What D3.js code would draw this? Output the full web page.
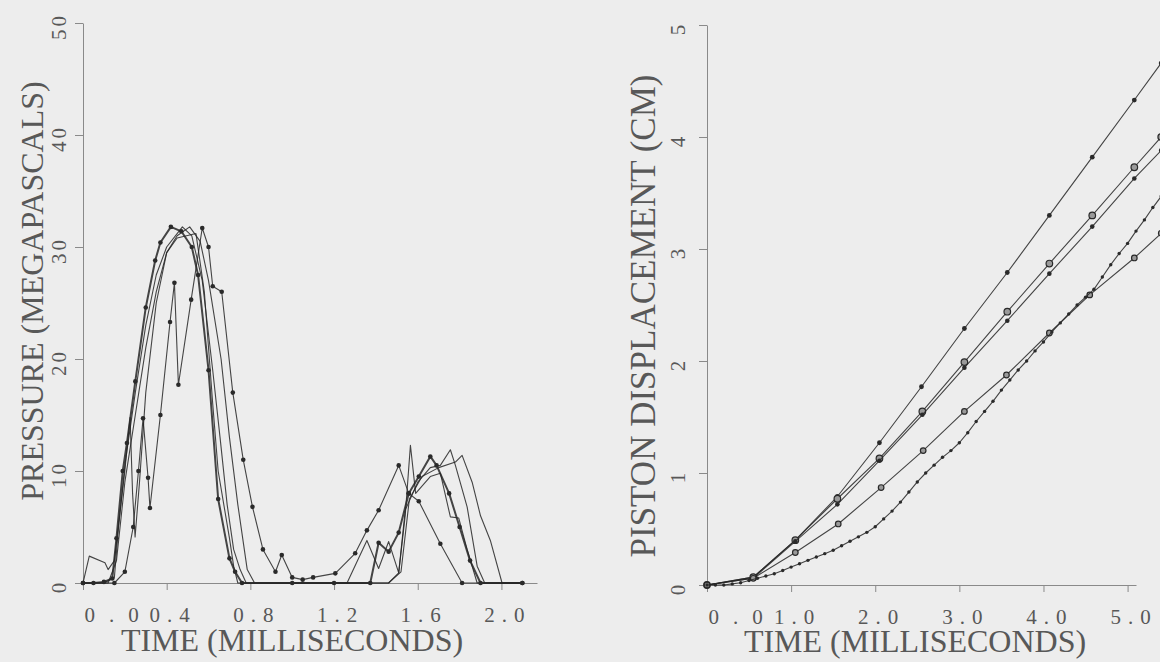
<!DOCTYPE html>
<html>
<head>
<meta charset="utf-8">
<script src="https://cdn.jsdelivr.net/npm/d3@7"></script>
<style>
body { margin: 0; background: #ededed; }
svg { display: block; }
text { font-family: "Liberation Serif", "DejaVu Serif", serif; fill: #585858; }
</style>
</head>
<body>
<svg width="1160" height="662"></svg>
<script>
// tick labels
const pressTicksX = [0.0, 0.4, 0.8, 1.2, 1.6, 2.0]
const pressTicksY = [0, 10, 20, 30, 40, 50]
const dispTicksX = [0, 1, 2, 3, 4, 5]
const dispTicksY = [0, 1, 2, 3, 4, 5]

// pressure traces, [time ms, pressure MPa]
const pressA = [[0,0],[0.05,0],[0.1,0.1],[0.14,0.4],[0.16,4],[0.19,10],[0.21,12.5],[0.25,18],[0.3,24.6],[0.345,28.8],[0.37,30.4],[0.42,31.8],[0.47,31.4],[0.52,30],[0.55,27.5],[0.6,19],[0.646,7.5],[0.7,2.2],[0.727,1],[0.76,0],[1.0,0],[1.2,0],[1.373,0],[1.413,3.6],[1.461,2.8],[1.509,4.5],[1.557,8],[1.605,9.5],[1.66,11.3],[1.69,10.5],[1.75,8],[1.8,5],[1.85,2],[1.9,0],[2.1,0]]
const pressB = [[0,0],[0.1,0],[0.15,0.5],[0.17,5],[0.2,10.5],[0.25,17],[0.3,23],[0.35,27.5],[0.4,30],[0.475,31.8],[0.52,31],[0.57,27],[0.62,19],[0.655,13],[0.689,7],[0.72,3],[0.751,1.2],[0.78,0],[1.2,0],[1.461,0],[1.509,0.9],[1.54,6.5],[1.6,9],[1.66,10.3],[1.708,10.5],[1.756,11.9],[1.78,10.5],[1.836,6.8],[1.884,1.5],[1.92,0],[2.1,0]]
const pressC = [[0,0],[0.03,2.4],[0.105,1.8],[0.12,1.2],[0.15,2],[0.2,10],[0.225,14.8],[0.237,8],[0.249,4.1],[0.27,9],[0.3,17],[0.35,25],[0.4,29.5],[0.45,31],[0.51,31.8],[0.56,30.5],[0.6,27],[0.66,20],[0.7,13],[0.74,7],[0.785,1.2],[0.82,0],[1.2,0],[1.46,0],[1.52,1],[1.56,7.5],[1.62,9.5],[1.7,10.3],[1.78,10.8],[1.812,11.4],[1.86,9],[1.9,6],[1.947,3.8],[2.003,0],[2.1,0]]
const pressD = [[0,0],[0.15,0],[0.2,1],[0.24,5],[0.265,10],[0.287,14.7],[0.311,9.4],[0.32,6.7],[0.37,15],[0.416,23.3],[0.437,26.8],[0.456,17.7],[0.517,25.3],[0.57,31.7],[0.6,30],[0.62,26.5],[0.663,26],[0.716,17],[0.766,11],[0.81,6.8],[0.86,3],[0.92,1],[0.95,2.5],[1.0,0.5],[1.05,0.3],[1.1,0.5],[1.206,0.86],[1.301,2.65],[1.357,4.7],[1.413,6.5],[1.509,10.5],[1.557,8],[1.605,7.3],[1.708,3.5],[1.812,0],[2.1,0]]
const pressE = [[0,0],[0.12,0],[0.16,2],[0.2,9],[0.25,15],[0.3,21],[0.35,26],[0.4,29.5],[0.45,30.8],[0.54,31.2],[0.58,26],[0.62,16],[0.646,10],[0.7,4],[0.72,1.5],[0.74,0],[1.2,0],[1.262,0],[1.357,3.8],[1.413,1.3],[1.461,3.7],[1.509,0.9],[1.54,6],[1.565,12.3],[1.59,8],[1.66,9.5],[1.708,9.8],[1.756,5.9],[1.796,5.8],[1.836,3],[1.884,0],[2.1,0]]

// piston displacement, [time ms, displacement cm]
const dispR1 = [[0,0],[0.55,0.07],[1.05,0.40],[1.55,0.79],[2.05,1.27],[2.55,1.77],[3.06,2.29],[3.57,2.79],[4.07,3.30],[4.58,3.82],[5.08,4.33],[5.4,4.66]]
const dispR2 = [[0,0],[0.55,0.07],[1.05,0.40],[1.55,0.77],[2.05,1.13],[2.56,1.55],[3.06,1.99],[3.57,2.44],[4.07,2.87],[4.58,3.30],[5.08,3.73],[5.4,4.0]]
const dispR3 = [[0,0],[0.55,0.06],[1.05,0.39],[1.55,0.72],[2.05,1.11],[2.56,1.52],[3.06,1.94],[3.57,2.36],[4.07,2.78],[4.58,3.2],[5.08,3.63],[5.4,3.88]]
const dispR4 = [[0,0],[0.55,0.06],[1.05,0.29],[1.56,0.545],[2.07,0.87],[2.57,1.2],[3.06,1.55],[3.56,1.875],[4.07,2.25],[4.55,2.59],[5.08,2.92],[5.4,3.14]]
const dispR5 = [[0,0],[0.1,0],[0.2,0],[0.3,0.01],[0.4,0.02],[0.5,0.04],[0.6,0.06],[0.7,0.08],[0.8,0.1],[0.9,0.13],[1.0,0.16],[1.1,0.19],[1.2,0.22],[1.3,0.25],[1.4,0.28],[1.5,0.31],[1.6,0.35],[1.7,0.39],[1.8,0.43],[1.9,0.47],[2.0,0.52],[2.1,0.59],[2.2,0.66],[2.3,0.74],[2.4,0.83],[2.5,0.92],[2.6,1.0],[2.7,1.07],[2.8,1.14],[2.9,1.2],[3.0,1.27],[3.1,1.36],[3.2,1.46],[3.3,1.55],[3.4,1.64],[3.5,1.74],[3.6,1.83],[3.7,1.92],[3.8,2.0],[3.9,2.09],[4.0,2.17],[4.1,2.26],[4.2,2.34],[4.3,2.42],[4.4,2.5],[4.5,2.57],[4.6,2.64],[4.7,2.75],[4.8,2.86],[4.9,2.96],[5.0,3.05],[5.1,3.16],[5.2,3.26],[5.3,3.37],[5.4,3.47]]

const svg = d3.select('svg')

const xP = d3.scaleLinear().domain([0, 2.17]).range([83, 537])
const yP = d3.scaleLinear().domain([0, 50]).range([583, 23])
const xD = d3.scaleLinear().domain([0, 5.1]).range([707, 1136])
const yD = d3.scaleLinear().domain([0, 5]).range([585, 25])

/*

AXES

*/
const drawAxes = (x, y, xTicks, yTicks, yLabelGap) => {
	const gx = svg.append('g')
		.attr('transform', `translate(0,${y(0)})`)
		.call(d3.axisBottom(x).tickValues(xTicks).tickSize(7).tickSizeOuter(0).tickFormat(d3.format('.1f')))
	const gy = svg.append('g')
		.attr('transform', `translate(${x(0)},0)`)
		.call(d3.axisLeft(y).tickValues(yTicks).tickSize(8).tickSizeOuter(0).tickFormat(d3.format('d')))

	svg.selectAll('.domain, .tick line').attr('stroke', '#8a8a8a').attr('stroke-width', 1)

	gx.attr('font-family', null).attr('font-size', null)
	gx.selectAll('text')
		.attr('y', 39).attr('dy', 0)
		.attr('x', (d, i) => i === 0 ? 1 : 6)
		.attr('text-anchor', (d, i) => i === 0 ? 'start' : 'middle')
		.style('font-size', '21px')
		.style('letter-spacing', (d, i) => i === 0 ? '14px' : '7px')
		.attr('fill', null)

	gy.attr('font-family', null).attr('font-size', null)
	gy.selectAll('text')
		.attr('transform', 'rotate(-90)')
		.attr('x', -3).attr('y', -yLabelGap).attr('dy', 0)
		.attr('text-anchor', 'middle')
		.style('font-size', '21px')
		.style('letter-spacing', '3px')
		.attr('fill', null)
}

drawAxes(xP, yP, pressTicksX, pressTicksY, 17)
drawAxes(xD, yD, dispTicksX, dispTicksY, 22)

const title = (x, y, rot, size, spacing, txt) => {
	svg.append('text')
		.attr('transform', `translate(${x},${y}) rotate(${rot})`)
		.attr('text-anchor', 'middle')
		.style('font-size', size + 'px')
		.style('letter-spacing', spacing + 'px')
		.text(txt)
}

title(292, 651, 0, 32, 0, 'TIME (MILLISECONDS)')
title(915, 652, 0, 32, 0, 'TIME (MILLISECONDS)')
title(43, 291, -90, 32, 0, 'PRESSURE (MEGAPASCALS)')
title(655, 316, -90, 35, 0, 'PISTON DISPLACEMENT (CM)')

/*

TRACES

*/
const pressSeries = [
	{ pts: pressB, width: 1.1, mark: 0 },
	{ pts: pressC, width: 1.1, mark: 0 },
	{ pts: pressE, width: 1.1, mark: 0 },
	{ pts: pressD, width: 1.1, mark: 2.3 },
	{ pts: pressA, width: 2.0, mark: 2.3 },
]

const dispSeries = [
	{ pts: dispR1, width: 1.1, mark: 2.4, open: false },
	{ pts: dispR2, width: 1.1, mark: 3.3, open: true },
	{ pts: dispR3, width: 1.1, mark: 2.3, open: false },
	{ pts: dispR4, width: 1.1, mark: 2.8, open: true },
	{ pts: dispR5, width: 1.1, mark: 1.7, open: false },
]

const drawTraces = (series, x, y) => {
	const line = d3.line().x(d => x(d[0])).y(d => y(d[1]))
	const g = svg.append('g')
	const trace = g.selectAll('.trace')
		.data(series)
		.enter()
		.append('g')
		.attr('class', 'trace')

	trace.append('path')
		.attr('d', d => line(d.pts))
		.attr('fill', 'none')
		.attr('stroke', '#262626')
		.attr('stroke-opacity', 0.85)
		.attr('stroke-width', d => d.width)
		.attr('stroke-linejoin', 'round')

	trace.filter(d => d.mark > 0)
		.selectAll('circle')
		.data(d => d.pts.map(p => ({ p, r: d.mark, open: d.open })))
		.enter()
		.append('circle')
		.attr('cx', d => x(d.p[0]))
		.attr('cy', d => y(d.p[1]))
		.attr('r', d => d.r)
		.attr('fill', d => d.open ? '#9a9a9a' : '#2a2a2a')
		.attr('stroke', '#2a2a2a')
		.attr('stroke-width', d => d.open ? 1.2 : 0)
}

drawTraces(pressSeries, xP, yP)
drawTraces(dispSeries, xD, yD)
</script>
</body>
</html>
